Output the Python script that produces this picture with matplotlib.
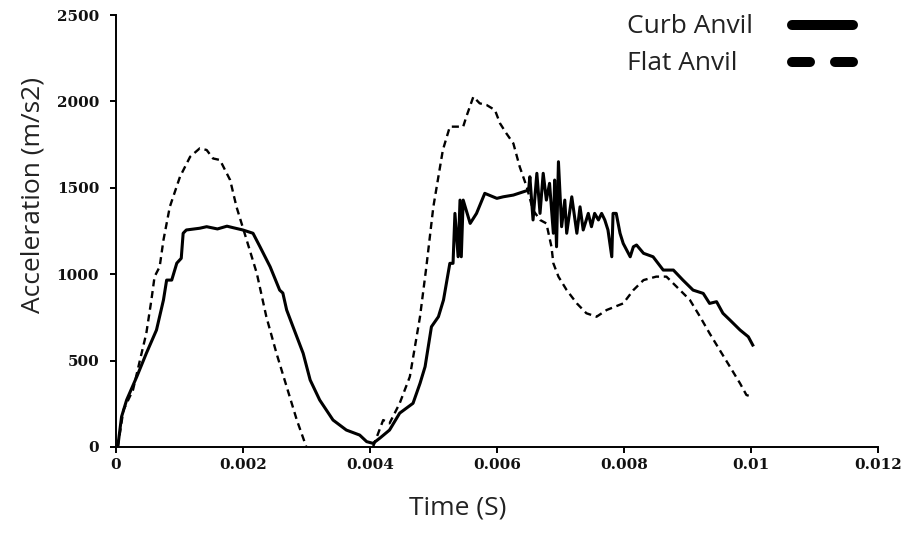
import numpy as np
import matplotlib
matplotlib.use("Agg")
import matplotlib.pyplot as plt
from matplotlib.lines import Line2D

# ---- data ----
curb_t = [0.00003, 0.00009, 0.00017, 0.00033, 0.00048, 0.00064, 0.00075, 0.00080, 0.00088, 0.00096,
          0.00103, 0.00106, 0.00111, 0.00132, 0.00143, 0.00160, 0.00175, 0.00185, 0.00200, 0.00216,
          0.00227, 0.00243, 0.00258, 0.00263, 0.00269, 0.00279, 0.00295, 0.00306, 0.00321, 0.00342,
          0.00363, 0.00384, 0.00395, 0.00405, 0.00416, 0.00431, 0.00447, 0.00468, 0.00479, 0.00487,
          0.00497, 0.00508, 0.00516, 0.00526, 0.00531, 0.00534, 0.00539, 0.00542, 0.00544, 0.00547,
          0.00558, 0.00568, 0.00581, 0.00600, 0.00610, 0.00626, 0.00650, 0.00652, 0.00657, 0.00663,
          0.00668, 0.00673, 0.00678, 0.00683, 0.00689, 0.00691, 0.00694, 0.00697, 0.00702, 0.00707,
          0.00710, 0.00718, 0.00726, 0.00731, 0.00736, 0.00744, 0.00749, 0.00754, 0.00760, 0.00765,
          0.00770, 0.00775, 0.00781, 0.00783, 0.00788, 0.00794, 0.00799, 0.00810, 0.00815, 0.00820,
          0.00831, 0.00846, 0.00862, 0.00878, 0.00893, 0.00909, 0.00925, 0.00935, 0.00946, 0.00956,
          0.00967, 0.00983, 0.00996, 0.01003]
curb_a = [0, 175, 272, 407, 542, 677, 851, 966, 966, 1064,
          1092, 1237, 1256, 1266, 1275, 1262, 1278, 1269, 1256, 1237,
          1159, 1043, 908, 891, 793, 696, 542, 388, 272, 156,
          98, 69, 31, 21, 52, 98, 196, 253, 368, 465,
          696, 754, 851, 1063, 1063, 1352, 1101, 1429, 1101, 1429,
          1294, 1352, 1468, 1439, 1448, 1458, 1487, 1564, 1314, 1584,
          1352, 1584, 1429, 1526, 1237, 1545, 1159, 1651, 1275, 1429,
          1237, 1448, 1237, 1390, 1256, 1352, 1275, 1352, 1314, 1352,
          1314, 1256, 1101, 1352, 1352, 1237, 1178, 1101, 1159, 1169,
          1121, 1101, 1024, 1024, 966, 908, 889, 831, 841, 774,
          735, 677, 638, 590]

flat_t = [0.00003, 0.00012, 0.00027, 0.00038, 0.00048, 0.00056, 0.00061, 0.00069, 0.00075, 0.00085,
          0.00101, 0.00117, 0.00132, 0.00143, 0.00153, 0.00164, 0.00180, 0.00190, 0.00206, 0.00222,
          0.00237, 0.00253, 0.00269, 0.00285, 0.00298, 0.00300, 0.00350, 0.00405,
          0.00421, 0.00431, 0.00447, 0.00463, 0.00479, 0.00489, 0.00500, 0.00515, 0.00526, 0.00547,
          0.00552, 0.00563, 0.00573, 0.00584, 0.00597, 0.00605, 0.00615, 0.00626, 0.00636, 0.00647,
          0.00657, 0.00668, 0.00678, 0.00686, 0.00689, 0.00697, 0.00710, 0.00726, 0.00741, 0.00757,
          0.00773, 0.00799, 0.00815, 0.00831, 0.00851, 0.00867, 0.00883, 0.00904, 0.00920, 0.00935,
          0.00951, 0.00967, 0.00983, 0.00993, 0.01001]
flat_a = [0, 214, 330, 503, 658, 851, 986, 1043, 1198, 1390,
          1564, 1680, 1728, 1719, 1670, 1661, 1545, 1390, 1198, 1005,
          754, 542, 349, 156, 21, 0, np.nan, 0,
          156, 137, 253, 407, 754, 1043, 1390, 1719, 1854, 1854,
          1912, 2027, 1989, 1979, 1950, 1873, 1815, 1757, 1622, 1506,
          1371, 1314, 1294, 1159, 1063, 986, 908, 831, 774, 754,
          793, 831, 908, 966, 986, 986, 928, 851, 754, 658,
          561, 465, 368, 301, 291]

series_labels = ["Curb Anvil", "Flat Anvil"]
x_ticks = [0, 0.002, 0.004, 0.006, 0.008, 0.01, 0.012]
x_tick_labels = ["0", "0.002", "0.004", "0.006", "0.008", "0.01", "0.012"]
y_ticks = [0, 500, 1000, 1500, 2000, 2500]

TEXT_COLOR = "#222222"
LABEL_FONT = {"family": "Open Sans", "size": 19}

# ---- figure ----
fig = plt.figure(figsize=(9.05, 5.57), dpi=100)
ax = fig.add_axes([0.128, 0.1975, 0.842, 0.7755])

ax.plot(curb_t, curb_a, color="black", lw=2.2, solid_joinstyle="round")
ax.plot(flat_t, flat_a, color="black", lw=1.7, linestyle=(0, (3, 2)))

ax.set_xlim(0, 0.012)
ax.set_ylim(0, 2500)
ax.set_xticks(x_ticks)
ax.set_xticklabels(x_tick_labels)
ax.set_yticks(y_ticks)
ax.set_yticklabels([str(v) for v in y_ticks])

for s in ["top", "right"]:
    ax.spines[s].set_visible(False)
for s in ["left", "bottom"]:
    ax.spines[s].set_linewidth(1.4)
    ax.spines[s].set_color("black")

ax.tick_params(axis="both", direction="out", length=4, width=1.4, color="black")
ax.tick_params(axis="y", pad=8)
ax.tick_params(axis="x", pad=4)
for lab in ax.get_xticklabels() + ax.get_yticklabels():
    lab.set_fontfamily("DejaVu Serif")
    lab.set_fontweight("bold")
    lab.set_fontsize(11)
    lab.set_color("#111111")

ax.set_xlabel("Time (S)", color=TEXT_COLOR, **LABEL_FONT)
ax.set_ylabel("Acceleration (m/s2)", color=TEXT_COLOR, **LABEL_FONT)
ax.xaxis.set_label_coords(0.448, -0.112)
ax.yaxis.set_label_coords(-0.092, 0.583)

# ---- legend: texts (left aligned) and handles (aligned column) ----
invisible = [Line2D([], [], alpha=0) for _ in series_labels]
leg_text = ax.legend(invisible, series_labels, loc="upper left",
                     bbox_to_anchor=(627 / 905, 0.975), bbox_transform=fig.transFigure,
                     frameon=False, prop=LABEL_FONT, handlelength=0, handletextpad=0,
                     labelspacing=0.45, borderaxespad=0, borderpad=0)
for t in leg_text.get_texts():
    t.set_color(TEXT_COLOR)
ax.add_artist(leg_text)

handles = [
    Line2D([], [], color="black", lw=7.2, solid_capstyle="round"),
    Line2D([], [], color="black", lw=7.2, dash_capstyle="round", linestyle=(0, (1.8, 2.5))),
]
leg_lines = ax.legend(handles, ["", ""], loc="upper left",
                      bbox_to_anchor=(792 / 905, 0.973), bbox_transform=fig.transFigure,
                      frameon=False, prop=LABEL_FONT, handlelength=2.31, handletextpad=0,
                      labelspacing=0.45, borderaxespad=0, borderpad=0)

fig.savefig("out.png", dpi=100)
